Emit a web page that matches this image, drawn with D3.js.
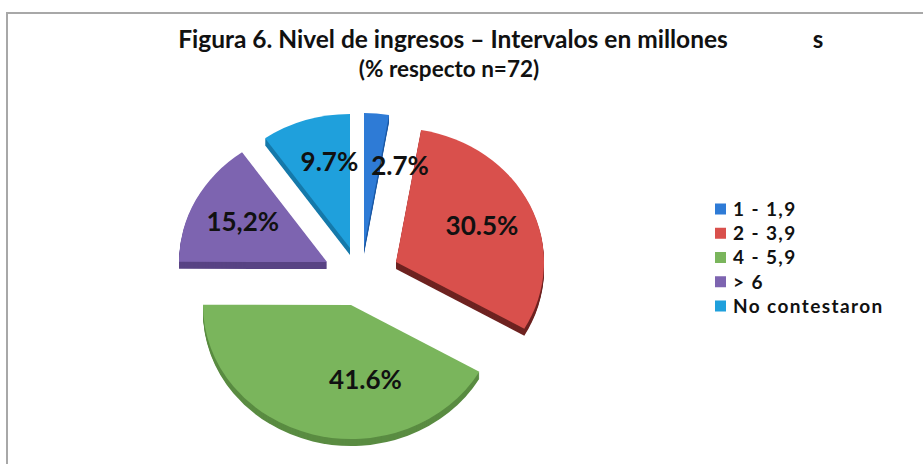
<!DOCTYPE html>
<html>
<head>
<meta charset="utf-8">
<script src="https://cdn.jsdelivr.net/npm/d3@7"></script>
<style>
  body { margin: 0; background: #fff; }
  text { font-family: Lato, "Open Sans", sans-serif; font-weight: bold; fill: #111; }
</style>
</head>
<body>
<script>
// chart data
var categories = ["1 - 1,9", "2 - 3,9", "4 - 5,9", "> 6", "No contestaron"];
var values = [2.7, 30.5, 41.6, 15.2, 9.7];
var valueLabels = ["2.7%", "30.5%", "41.6%", "15,2%", "9.7%"];

var colors = ["#2e7bd6", "#d9504c", "#7ab55c", "#7d64b0", "#1fa0dc"];
var sideColors = ["#1d5aa5", "#6e2321", "#5a8c42", "#584384", "#1579aa"];

// how far each slice was pulled out (screen px), and label nudges
var explode = [[9, -15], [41, 0], [-4, 43], [-28, 0], [-5, -14]];
var labelNudge = [[28, 5], [0, 0], [39, -8], [0, 0], [8, -4]];

var svgWidth = 923;
var svgHeight = 464;

var cx = 355, cy = 262;
var radius = 148;
var squash = 0.905;   // pie seen slightly tilted
var thickness = 7;

var svg = d3.select("body")
  .append("svg")
  .attr("width", svgWidth)
  .attr("height", svgHeight);

// chart frame
svg.append("rect")
  .attr("x", 7)
  .attr("y", 13)
  .attr("width", svgWidth)
  .attr("height", svgHeight)
  .attr("fill", "none")
  .attr("stroke", "#a8a8a8")
  .attr("stroke-width", 2);

// title
svg.append("text")
  .attr("x", 453)
  .attr("y", 48)
  .attr("text-anchor", "middle")
  .style("font-size", "24.5px")
  .text("Figura 6. Nivel de ingresos – Intervalos en millones");

svg.append("text")
  .attr("x", 818)
  .attr("y", 48)
  .attr("text-anchor", "middle")
  .style("font-size", "24px")
  .text("s");

svg.append("text")
  .attr("x", 449)
  .attr("y", 77)
  .attr("text-anchor", "middle")
  .style("font-size", "22.5px")
  .text("(% respecto n=72)");

var pie = d3.pie().sort(null).value(d => d);
var arcs = pie(values);

var arc = d3.arc().innerRadius(0).outerRadius(radius);
var labelArc = d3.arc().innerRadius(95).outerRadius(95);

var slices = svg.selectAll("g.slice")
  .data(arcs)
  .enter()
  .append("g")
  .attr("class", "slice")
  .attr("transform", (d, i) => `translate(${cx + explode[i][0]}, ${cy + explode[i][1]})`);

// side walls, stacked downwards
d3.range(thickness, 0, -1).forEach(function (t) {
  slices.append("path")
    .attr("transform", `translate(0, ${t}) scale(1, ${squash})`)
    .attr("d", arc)
    .attr("fill", (d, i) => sideColors[i]);
});

// top faces
slices.append("path")
  .attr("transform", `scale(1, ${squash})`)
  .attr("d", arc)
  .attr("fill", (d, i) => colors[i]);

// value labels, on top of every slice
svg.append("g")
  .selectAll("text")
  .data(arcs)
  .enter()
  .append("text")
  .attr("x", (d, i) => cx + explode[i][0] + labelArc.centroid(d)[0] + labelNudge[i][0])
  .attr("y", (d, i) => cy + explode[i][1] + labelArc.centroid(d)[1] * squash + labelNudge[i][1])
  .attr("dy", "0.35em")
  .attr("text-anchor", "middle")
  .style("font-size", "26px")
  .text((d, i) => valueLabels[i]);

// legend
var legendY = d3.scalePoint()
  .domain(categories)
  .range([209, 306]);

var legend = svg.selectAll("g.legend")
  .data(categories)
  .enter()
  .append("g")
  .attr("class", "legend")
  .attr("transform", d => `translate(715, ${legendY(d)})`);

legend.append("rect")
  .attr("x", 0)
  .attr("y", -5.5)
  .attr("width", 11)
  .attr("height", 11)
  .attr("fill", (d, i) => colors[i]);

legend.append("text")
  .attr("x", 18)
  .attr("dy", "0.36em")
  .style("font-family", "Lato, sans-serif")
  .style("font-size", "19px")
  .style("letter-spacing", "1.4px")
  .text(d => d);
</script>
</body>
</html>
